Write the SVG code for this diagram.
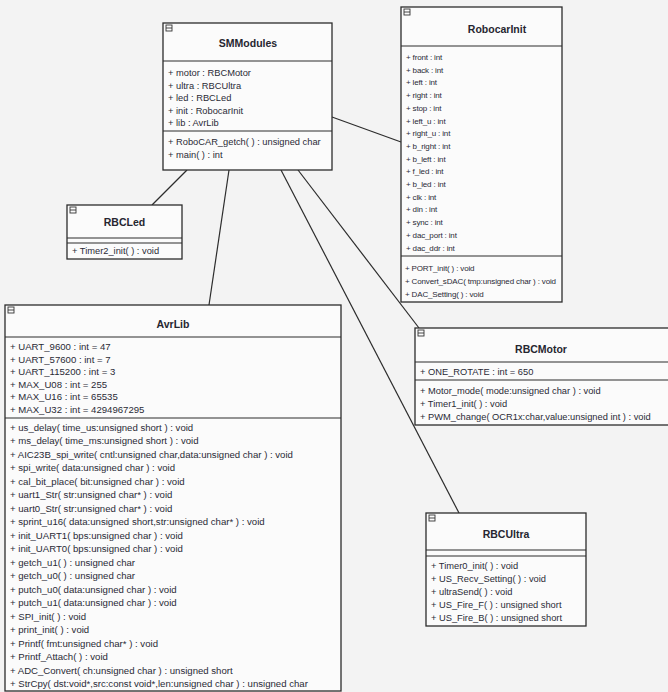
<svg xmlns="http://www.w3.org/2000/svg" width="668" height="692" viewBox="0 0 668 692">
<defs>
<style>
.bg{fill:#f3f3f3}
.box{fill:#fbfbfb;stroke:#2c2c2c;stroke-width:1.3}
.sep{stroke:#2c2c2c;stroke-width:1.2}
.t{font-family:"Liberation Sans",Arial,sans-serif;font-size:10.5px;font-weight:bold;fill:#262630;text-anchor:middle}
.m{font-family:"Liberation Sans",Arial,sans-serif;font-size:9.3px;fill:#2a2a36}
.ms{font-family:"Liberation Sans",Arial,sans-serif;font-size:8px;letter-spacing:-0.15px;fill:#2a2a36}
.ml{font-family:"Liberation Sans",Arial,sans-serif;font-size:9.6px;fill:#2a2a36}
.ic{fill:none;stroke:#333;stroke-width:0.9}
.con{stroke:#2c2c2c;stroke-width:1.2;fill:none}
</style>
<g id="icon"><rect class="ic" x="0" y="0" width="6" height="6"/><line class="ic" x1="0" y1="3" x2="6" y2="3"/></g>
</defs>
<rect class="bg" x="0" y="0" width="668" height="692"/>

<g id="connectors">
<line class="con" x1="187" y1="170" x2="152" y2="205"/>
<line class="con" x1="229" y1="170" x2="209" y2="305"/>
<line class="con" x1="281" y1="170" x2="459" y2="513"/>
<line class="con" x1="298" y1="170" x2="419" y2="328"/>
<line class="con" x1="332" y1="117" x2="401" y2="142"/>
</g>

<g id="SMModules">
<rect class="box" x="163" y="23" width="169" height="147"/>
<use href="#icon" x="166" y="25"/>
<text class="t" x="248" y="47">SMModules</text>
<line class="sep" x1="163" y1="61" x2="332" y2="61"/>
<text class="m" x="168" y="76">+ motor : RBCMotor</text>
<text class="m" x="168" y="88.5">+ ultra : RBCUltra</text>
<text class="m" x="168" y="101">+ led : RBCLed</text>
<text class="m" x="168" y="113.5">+ init : RobocarInit</text>
<text class="m" x="168" y="126">+ lib : AvrLib</text>
<line class="sep" x1="163" y1="131" x2="332" y2="131"/>
<text class="m" x="168" y="145">+ RoboCAR_getch( ) : unsigned char</text>
<text class="m" x="168" y="157.5">+ main( ) : int</text>
</g>

<g id="RobocarInit">
<rect class="box" x="401" y="7" width="161" height="295"/>
<use href="#icon" x="404" y="9"/>
<text class="t" x="497" y="33">RobocarInit</text>
<line class="sep" x1="401" y1="46" x2="562" y2="46"/>
<text class="ms" x="406" y="60">+ front : int</text>
<text class="ms" x="406" y="72.7">+ back : int</text>
<text class="ms" x="406" y="85.4">+ left : int</text>
<text class="ms" x="406" y="98.1">+ right : int</text>
<text class="ms" x="406" y="110.8">+ stop : int</text>
<text class="ms" x="406" y="123.5">+ left_u : int</text>
<text class="ms" x="406" y="136.2">+ right_u : int</text>
<text class="ms" x="406" y="148.9">+ b_right : int</text>
<text class="ms" x="406" y="161.6">+ b_left : int</text>
<text class="ms" x="406" y="174.3">+ f_led : int</text>
<text class="ms" x="406" y="187">+ b_led : int</text>
<text class="ms" x="406" y="199.7">+ clk : int</text>
<text class="ms" x="406" y="212.4">+ din : int</text>
<text class="ms" x="406" y="225.1">+ sync : int</text>
<text class="ms" x="406" y="237.8">+ dac_port : int</text>
<text class="ms" x="406" y="250.5">+ dac_ddr : int</text>
<line class="sep" x1="401" y1="256" x2="562" y2="256"/>
<text class="ms" x="405" y="271">+ PORT_init( ) : void</text>
<text class="ms" x="405" y="284">+ Convert_sDAC( tmp:unsigned char ) : void</text>
<text class="ms" x="405" y="297">+ DAC_Setting( ) : void</text>
</g>

<g id="RBCLed">
<rect class="box" x="67" y="205" width="115" height="54"/>
<use href="#icon" x="70" y="207"/>
<text class="t" x="124.5" y="226">RBCLed</text>
<line class="sep" x1="67" y1="238" x2="182" y2="238"/>
<line class="sep" x1="67" y1="243" x2="182" y2="243"/>
<text class="m" x="72" y="254">+ Timer2_init( ) : void</text>
</g>

<g id="AvrLib">
<rect class="box" x="5" y="305" width="336" height="386"/>
<use href="#icon" x="8" y="307"/>
<text class="t" x="173" y="328">AvrLib</text>
<line class="sep" x1="5" y1="337" x2="341" y2="337"/>
<text class="ml" x="10" y="350">+ UART_9600 : int = 47</text>
<text class="ml" x="10" y="362.5">+ UART_57600 : int = 7</text>
<text class="ml" x="10" y="375">+ UART_115200 : int = 3</text>
<text class="ml" x="10" y="387.5">+ MAX_U08 : int = 255</text>
<text class="ml" x="10" y="400">+ MAX_U16 : int = 65535</text>
<text class="ml" x="10" y="412.5">+ MAX_U32 : int = 4294967295</text>
<line class="sep" x1="5" y1="418" x2="341" y2="418"/>
<text class="ml" x="10" y="430.5">+ us_delay( time_us:unsigned short ) : void</text>
<text class="ml" x="10" y="444">+ ms_delay( time_ms:unsigned short ) : void</text>
<text class="ml" x="10" y="457.5">+ AIC23B_spi_write( cntl:unsigned char,data:unsigned char ) : void</text>
<text class="ml" x="10" y="471">+ spi_write( data:unsigned char ) : void</text>
<text class="ml" x="10" y="484.5">+ cal_bit_place( bit:unsigned char ) : void</text>
<text class="ml" x="10" y="498">+ uart1_Str( str:unsigned char* ) : void</text>
<text class="ml" x="10" y="511.5">+ uart0_Str( str:unsigned char* ) : void</text>
<text class="ml" x="10" y="525">+ sprint_u16( data:unsigned short,str:unsigned char* ) : void</text>
<text class="ml" x="10" y="538.5">+ init_UART1( bps:unsigned char ) : void</text>
<text class="ml" x="10" y="552">+ init_UART0( bps:unsigned char ) : void</text>
<text class="ml" x="10" y="565.5">+ getch_u1( ) : unsigned char</text>
<text class="ml" x="10" y="579">+ getch_u0( ) : unsigned char</text>
<text class="ml" x="10" y="592.5">+ putch_u0( data:unsigned char ) : void</text>
<text class="ml" x="10" y="606">+ putch_u1( data:unsigned char ) : void</text>
<text class="ml" x="10" y="619.5">+ SPI_init( ) : void</text>
<text class="ml" x="10" y="633">+ print_init( ) : void</text>
<text class="ml" x="10" y="646.5">+ Printf( fmt:unsigned char* ) : void</text>
<text class="ml" x="10" y="660">+ Printf_Attach( ) : void</text>
<text class="ml" x="10" y="673.5">+ ADC_Convert( ch:unsigned char ) : unsigned short</text>
<text class="ml" x="10" y="687">+ StrCpy( dst:void*,src:const void*,len:unsigned char ) : unsigned char</text>
</g>

<g id="RBCMotor">
<rect class="box" x="415" y="328" width="260" height="97"/>
<use href="#icon" x="418" y="330"/>
<text class="t" x="541" y="353">RBCMotor</text>
<line class="sep" x1="415" y1="362" x2="675" y2="362"/>
<text class="m" x="420" y="375">+ ONE_ROTATE : int = 650</text>
<line class="sep" x1="415" y1="380" x2="675" y2="380"/>
<text class="m" x="420" y="394">+ Motor_mode( mode:unsigned char ) : void</text>
<text class="m" x="420" y="407">+ Timer1_init( ) : void</text>
<text class="m" x="420" y="420">+ PWM_change( OCR1x:char,value:unsigned int ) : void</text>
</g>

<g id="RBCUltra">
<rect class="box" x="426" y="513" width="160" height="113"/>
<use href="#icon" x="429" y="515"/>
<text class="t" x="506" y="538">RBCUltra</text>
<line class="sep" x1="426" y1="550" x2="586" y2="550"/>
<line class="sep" x1="426" y1="556" x2="586" y2="556"/>
<text class="m" x="431" y="569">+ Timer0_init( ) : void</text>
<text class="m" x="431" y="582">+ US_Recv_Setting( ) : void</text>
<text class="m" x="431" y="595">+ ultraSend( ) : void</text>
<text class="m" x="431" y="608">+ US_Fire_F( ) : unsigned short</text>
<text class="m" x="431" y="621">+ US_Fire_B( ) : unsigned short</text>
</g>
</svg>
